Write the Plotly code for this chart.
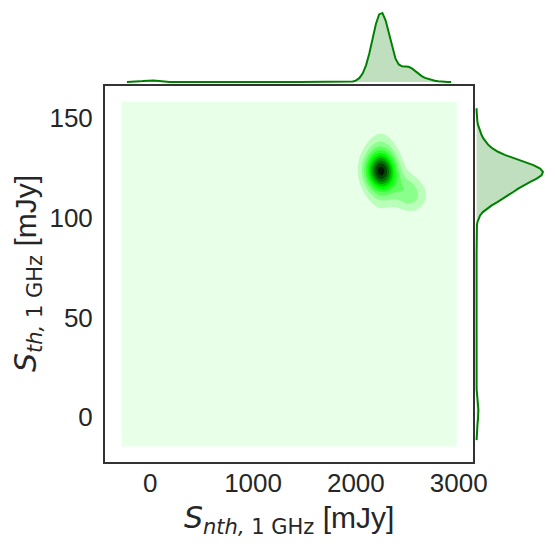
import colorsys
import numpy as np
import plotly.graph_objects as go

S_NTH = [2250, 2240, 2262, 2150, 2170, 2200, 2210, 2300, 2320, 2350, 2190, 2280,
         2240, 2130, 2380, 2270, 2225, 2255, 2480, 2520, 2500, 2550, 2615, 2700,
         2230, 0]
S_TH = [123.0, 126.0, 120.0, 128.0, 118.0, 135.0, 110.0, 131.0, 116.0, 124.0, 123.0, 138.0,
        106.0, 122.0, 120.0, 112.0, 132.0, 127.0, 113.0, 110.0, 116.0, 112.0, 108.0, 113.0,
        141.0, 2.4]
N_OBS = [14, 6, 6, 2, 2, 1, 1, 2, 2, 1, 2, 1,
         1, 1, 1, 2, 2, 2, 3, 3, 2, 1, 1, 1,
         1, 1]

X_TICKS = [0, 1000, 2000, 3000]
Y_TICKS = [0, 50, 100, 150]

BW_2D = (94.0, 5.7)   # kde bandwidths (x, y)
BW_1D = (75.7, 4.6)
CUT = 3
GRIDSIZE = 100
N_BANDS = 11

W, H = 555, 548
# the page shows the figure 8 px in from the corner and only 540 px wide
OFF, W_SHOWN = 8, 540
GREEN = "#008000"

x = np.array(S_NTH, float)
y = np.array(S_TH, float)
w = np.array(N_OBS, float)


def kde_1d(vals, bw):
    g = np.linspace(vals.min() - CUT * bw, vals.max() + CUT * bw, GRIDSIZE)
    d = (np.exp(-0.5 * ((g[:, None] - vals[None, :]) / bw) ** 2) * w).sum(axis=1)
    return g, d / (w.sum() * bw * np.sqrt(2 * np.pi))


# bivariate kde
bx, by = BW_2D
gx = np.linspace(x.min() - CUT * bx, x.max() + CUT * bx, GRIDSIZE)
gy = np.linspace(y.min() - CUT * by, y.max() + CUT * by, GRIDSIZE)
kx = np.exp(-0.5 * ((gx[:, None] - x[None, :]) / bx) ** 2) * w
ky = np.exp(-0.5 * ((gy[:, None] - y[None, :]) / by) ** 2)
z = ky @ kx.T / (w.sum() * 2 * np.pi * bx * by)

zmax = z.max()
step = zmax / (N_BANDS - 0.5)
# white -> green -> black, like seaborn's blend for color "g"
band_cols = []
for j in range(N_BANDS):
    r, g, b = colorsys.hls_to_rgb(1 / 3, 1 - (j + 0.5) / N_BANDS, 1.0)
    band_cols.append("rgb(%d,%d,%d)" % (round(r * 255), round(g * 255), round(b * 255)))
cscale = [[j / (N_BANDS - 1), c] for j, c in enumerate(band_cols)]

mx, dx = kde_1d(x, BW_1D[0])
my, dy = kde_1d(y, BW_1D[1])

fig = go.Figure()
fig.add_trace(go.Contour(
    x=gx, y=gy, z=z, colorscale=cscale, showscale=False,
    contours=dict(start=step, end=step * (N_BANDS - 1), size=step, coloring="fill"),
    line=dict(width=0), hoverinfo="skip",
))
fig.add_trace(go.Scatter(
    x=mx, y=dx, mode="lines", line=dict(color=GREEN, width=2),
    fill="tozeroy", fillcolor="rgba(0,128,0,0.25)", xaxis="x", yaxis="y2",
))
fig.add_trace(go.Scatter(
    x=dy, y=my, mode="lines", line=dict(color=GREEN, width=2),
    fill="tozerox", fillcolor="rgba(0,128,0,0.25)", xaxis="x2", yaxis="y",
))


def hx(px):
    return (px - OFF) / W_SHOWN


def vy(py):
    return 1 - (py - OFF) / H


tick_font = dict(family="Liberation Sans, Arial", size=26, color="#262626")
frame = dict(ticks="", showgrid=False, zeroline=False, showline=True, mirror=True,
             linecolor="#333333", linewidth=1.7, tickfont=tick_font)

fig.update_layout(
    width=W, height=H, margin=dict(l=0, r=0, t=0, b=0),
    paper_bgcolor="white", plot_bgcolor="white", showlegend=False,
    xaxis=dict(domain=[hx(104.7), hx(472.0)], range=[-441.5, 3138],
               tickvals=X_TICKS, ticklabelstandoff=-3, **frame),
    yaxis=dict(domain=[vy(462.3), vy(85.7)], range=[-22.53, 166.05],
               tickvals=Y_TICKS, ticklabelstandoff=5, **frame),
    yaxis2=dict(domain=[vy(85.5), vy(9.5)], range=[-0.05 * dx.max(), 1.05 * dx.max()],
                visible=False),
    xaxis2=dict(domain=[hx(472.4), hx(545.3)], range=[-0.05 * dy.max(), 1.05 * dy.max()],
                visible=False),
)

title_font = dict(family="Liberation Sans, Arial", size=30, color="#262626")
fig.add_annotation(
    text='<span style="font-family:DejaVu Sans"><i>S</i><sub><i>nth,</i> 1 GHz</sub></span> [mJy]',
    xref="paper", yref="paper", x=hx(288.5), y=vy(519), showarrow=False,
    xanchor="center", yanchor="middle", font=title_font,
)
fig.add_annotation(
    text='<span style="font-family:DejaVu Sans"><i>S</i><sub><i>th,</i> 1 GHz</sub></span> [mJy]',
    xref="paper", yref="paper", x=hx(27), y=vy(274), showarrow=False,
    textangle=-90, xanchor="center", yanchor="middle", font=title_font,
)

fig.write_html("out.html")
